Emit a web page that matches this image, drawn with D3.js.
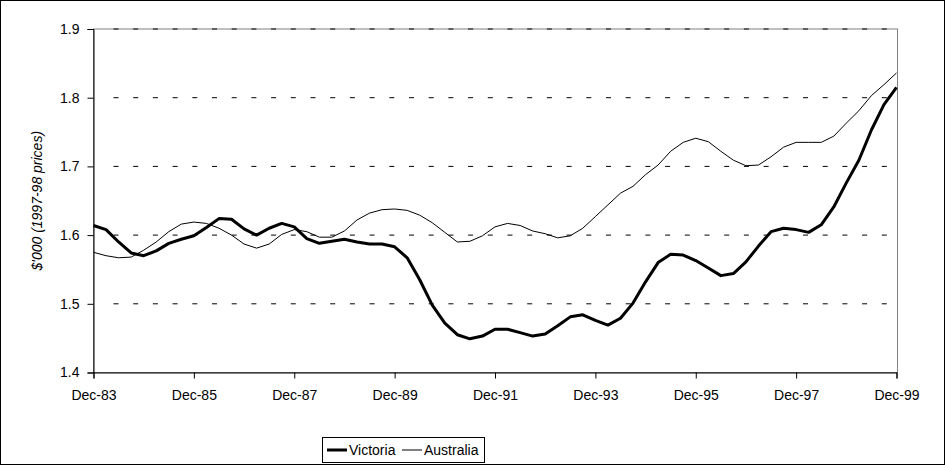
<!DOCTYPE html>
<html>
<head>
<meta charset="utf-8">
<script src="https://cdn.jsdelivr.net/npm/d3@7"></script>
<style>
  html, body { margin: 0; padding: 0; background: #fff; }
  svg { display: block; font-family: "Liberation Sans", Arial, sans-serif; }
</style>
</head>
<body>
<svg id="chart" width="945" height="465"></svg>
<script>
// ---- data (quarterly, Dec-83 .. Dec-99) ----
const tickLabels = ["Dec-83","Dec-85","Dec-87","Dec-89","Dec-91","Dec-93","Dec-95","Dec-97","Dec-99"];
const yTicks = [1.4, 1.5, 1.6, 1.7, 1.8, 1.9];
const victoria = [
  1.614,1.608,1.590,1.574,1.570,1.577,1.588,1.594,
  1.599,1.611,1.624,1.623,1.609,1.600,1.610,1.617,
  1.612,1.595,1.588,1.591,1.594,1.590,1.587,1.587,
  1.583,1.567,1.535,1.498,1.472,1.455,1.449,1.453,
  1.463,1.463,1.458,1.453,1.456,1.468,1.481,1.484,
  1.476,1.469,1.479,1.501,1.532,1.560,1.572,1.571,
  1.563,1.552,1.541,1.544,1.561,1.584,1.605,1.610,
  1.608,1.604,1.615,1.641,1.676,1.709,1.753,1.790,
  1.815
];
const australia = [
  1.575,1.570,1.567,1.568,1.578,1.590,1.605,1.616,
  1.619,1.617,1.610,1.600,1.587,1.581,1.587,1.601,
  1.608,1.605,1.597,1.597,1.606,1.622,1.632,1.637,
  1.638,1.636,1.629,1.618,1.604,1.590,1.591,1.599,
  1.612,1.617,1.614,1.606,1.602,1.596,1.599,1.610,
  1.627,1.644,1.661,1.671,1.688,1.702,1.722,1.735,
  1.741,1.736,1.722,1.709,1.701,1.702,1.714,1.728,
  1.735,1.735,1.735,1.744,1.763,1.781,1.803,1.819,
  1.836
];
const seriesNames = ["Victoria", "Australia"];
const yTitle = "$'000 (1997-98 prices)";

// ---- layout ----
const svg = d3.select("#chart");
const L = 93.5, R = 896.5, T = 29, B = 372.5;
const FS = 14;
const x = d3.scaleLinear().domain([0, victoria.length - 1]).range([L, R]);
const y = d3.scaleLinear().domain([1.4, 1.9]).range([B, T]);

// outer border
svg.append("rect").attr("x", 0.5).attr("y", 0.5).attr("width", 944).attr("height", 464)
  .attr("fill", "#fff").attr("stroke", "#000");

// plot area border (gray)
svg.append("rect").attr("x", L).attr("y", T).attr("width", R + 1 - L).attr("height", B - T)
  .attr("fill", "none").attr("stroke", "#808080");

// gridlines
svg.append("g").selectAll("line").data(yTicks.filter(d => d > 1.4)).join("line")
  .attr("x1", L + 20).attr("x2", R + 1)
  .attr("y1", d => y(d)).attr("y2", d => y(d))
  .attr("stroke", "#000").attr("stroke-width", 1)
  .attr("stroke-dasharray", "5,14.7");

// y axis
const yAxis = d3.axisLeft(y).tickValues(yTicks).tickFormat(d3.format(".1f")).tickSizeOuter(0).tickSize(6).tickPadding(8);
const gy = svg.append("g").attr("transform", `translate(${L},0)`).call(yAxis);
gy.select(".domain").attr("stroke", "#000");
gy.selectAll("text").attr("font-size", FS).attr("fill", "#000");

// x axis
const tickIdx = tickLabels.map((_, i) => i * 8);
const xAxis = d3.axisBottom(x).tickValues(tickIdx).tickFormat((d, i) => tickLabels[i]).tickSizeOuter(0).tickSize(6).tickPadding(12);
const gx = svg.append("g").attr("transform", `translate(0,${B})`).call(xAxis);
gx.select(".domain").attr("stroke", "#000");
gx.selectAll("text").attr("font-size", FS).attr("fill", "#000");

// y title
svg.append("text")
  .attr("transform", `translate(42,${(T + B) / 2}) rotate(-90)`)
  .attr("text-anchor", "middle").attr("font-size", FS).attr("font-style", "italic")
  .text(yTitle);

// lines
const line = d3.line().x((d, i) => x(i)).y(d => y(d));
svg.append("path").datum(australia).attr("d", line)
  .attr("fill", "none").attr("stroke", "#000").attr("stroke-width", 1);
svg.append("path").datum(victoria).attr("d", line)
  .attr("fill", "none").attr("stroke", "#000").attr("stroke-width", 3).attr("stroke-linejoin", "round");

// legend
const lg = svg.append("g");
const lgX = 322, lgY = 437, lgW = 162, lgH = 25;
lg.append("rect").attr("x", lgX + 0.5).attr("y", lgY + 0.5).attr("width", lgW).attr("height", lgH)
  .attr("fill", "#fff").attr("stroke", "#000");
const items = [
  { name: seriesNames[0], w: 3, x: lgX + 5 },
  { name: seriesNames[1], w: 1, x: lgX + 80 }
];
items.forEach(it => {
  lg.append("line").attr("x1", it.x).attr("x2", it.x + 20)
    .attr("y1", lgY + 13).attr("y2", lgY + 13)
    .attr("stroke", "#000").attr("stroke-width", it.w);
  lg.append("text").attr("x", it.x + 22).attr("y", lgY + 18)
    .attr("font-size", FS).text(it.name);
});
</script>
</body>
</html>
